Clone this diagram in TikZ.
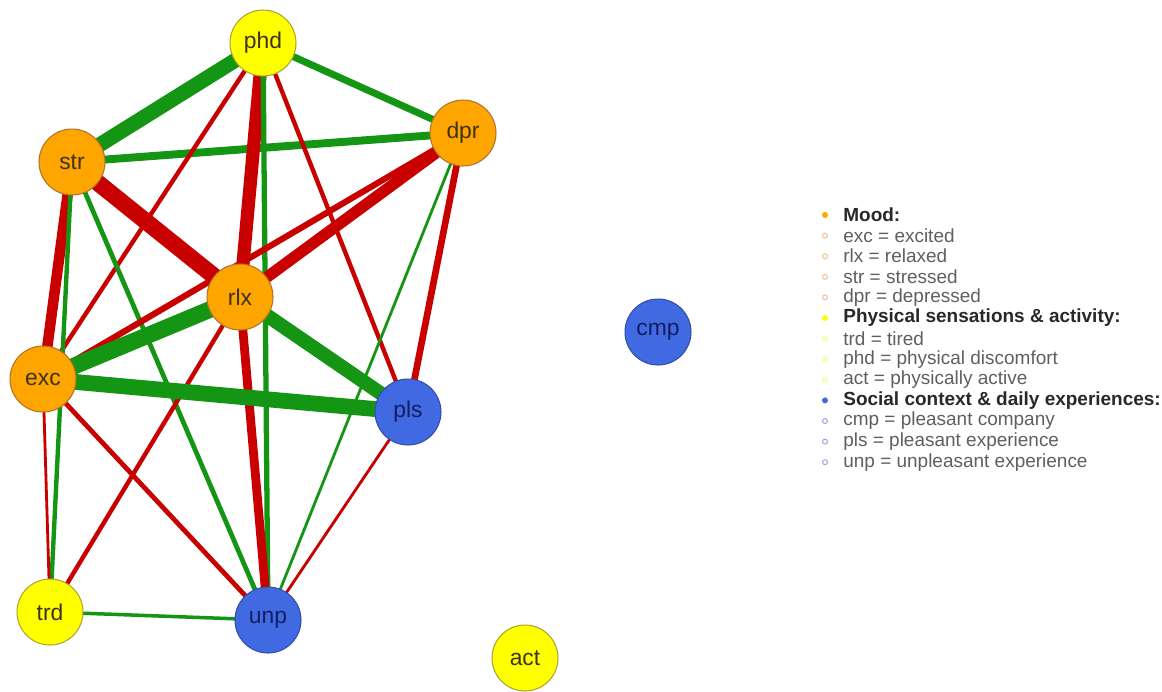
\documentclass[tikz,border=0pt]{standalone}
\usepackage{fontspec}
\setmainfont{Liberation Sans}
\usetikzlibrary{backgrounds}

\definecolor{moodfill}{RGB}{255,165,0}
\definecolor{moodline}{RGB}{175,115,40}
\definecolor{moodpale}{RGB}{240,195,150}
\definecolor{bodyfill}{RGB}{255,255,0}
\definecolor{bodyline}{RGB}{170,165,50}
\definecolor{bodypale}{RGB}{250,250,195}
\definecolor{socfill}{RGB}{65,105,225}
\definecolor{socline}{RGB}{50,80,170}
\definecolor{socpale}{RGB}{160,170,215}
\definecolor{nodetext}{RGB}{60,50,25}
\definecolor{soctext}{RGB}{20,30,95}
\definecolor{posedge}{RGB}{20,150,20}
\definecolor{negedge}{RGB}{200,0,0}
\definecolor{lgdgray}{RGB}{95,95,95}
\definecolor{lgddark}{RGB}{40,40,40}

\begin{document}
\begin{tikzpicture}[x=0.02cm, y=-0.02cm, line join=round,
		vert/.style={circle, minimum size=1.32cm, inner sep=0pt, line width=0.6pt, font=\fontsize{13}{13}\selectfont},
		mood/.style={vert, fill=moodfill, draw=moodline, text=nodetext},
		body/.style={vert, fill=bodyfill, draw=bodyline, text=nodetext},
		soc/.style={vert, fill=socfill, draw=socline, text=soctext},
		poscor/.style={draw=posedge},
		negcor/.style={draw=negedge},
		lgd/.style={anchor=west, inner sep=0pt, font=\fontsize{10.8}{12}\selectfont, text=lgdgray},
		lgdhead/.style={anchor=west, inner sep=0pt, font=\fontsize{10.8}{12}\selectfont\bfseries, text=lgddark},
		dot/.style={circle, inner sep=0pt, minimum size=0.12cm},
		mhead/.style={dot, fill=moodfill},
		mitem/.style={dot, draw=moodpale, line width=0.6pt, minimum size=0.1cm},
		bhead/.style={dot, fill=bodyfill},
		bitem/.style={dot, fill=bodypale, minimum size=0.14cm},
		shead/.style={dot, fill=socfill},
		sitem/.style={dot, draw=socpale, line width=0.6pt, minimum size=0.1cm}]
	\useasboundingbox (0,0) rectangle (1162,691);
	
	\node[body] (phd) at (263,43) {phd};
	\node[mood] (str) at (72,162) {str};
	\node[mood] (dpr) at (463,133) {dpr};
	\node[mood] (rlx) at (240,297) {rlx};
	\node[mood] (exc) at (43,379) {exc};
	\node[soc] (pls) at (408,412) {pls};
	\node[soc] (cmp) at (658,332) {cmp};
	\node[body] (trd) at (50,612) {trd};
	\node[soc] (unp) at (268,620) {unp};
	\node[body] (act) at (525,658) {act};
	
	% edges: first/second/sign/width in pt
	\begin{scope}[on background layer]
		\foreach \u/\v/\s/\w in {phd/str/poscor/8.5, phd/dpr/poscor/4, str/dpr/poscor/4.5,
			phd/rlx/negcor/7.5, phd/exc/negcor/2.5, phd/pls/negcor/2.5, phd/unp/poscor/3,
			str/rlx/negcor/9.5, str/exc/negcor/6, str/trd/poscor/2.5, str/unp/poscor/2.7,
			dpr/rlx/negcor/6.5, dpr/exc/negcor/3.5, dpr/pls/negcor/3.8, dpr/unp/poscor/1.6,
			rlx/exc/poscor/9.5, rlx/pls/poscor/8, rlx/unp/negcor/5, rlx/trd/negcor/2.5,
			exc/pls/poscor/9, exc/unp/negcor/2.7, exc/trd/negcor/1.6,
			pls/unp/negcor/1.6, trd/unp/poscor/2}
		\draw[\s, line width=\w pt] (\u.center)--(\v.center);
	\end{scope}
	
	% legend
	\foreach \k/\f/\t [count=\i from 0] in {mhead/lgdhead/Mood:, mitem/lgd/exc = excited,
		mitem/lgd/rlx = relaxed, mitem/lgd/str = stressed, mitem/lgd/dpr = depressed,
		bhead/lgdhead/Physical sensations \& activity:, bitem/lgd/trd = tired,
		bitem/lgd/phd = physical discomfort, bitem/lgd/act = physically active,
		shead/lgdhead/Social context \& daily experiences:, sitem/lgd/cmp = pleasant company,
		sitem/lgd/pls = pleasant experience, sitem/lgd/unp = unpleasant experience}
	\path (825,{215+20.6*\i}) node[\k] (m\i) {} +(18,0) node[\f] (l\i) {\t};
\end{tikzpicture}
\end{document}
